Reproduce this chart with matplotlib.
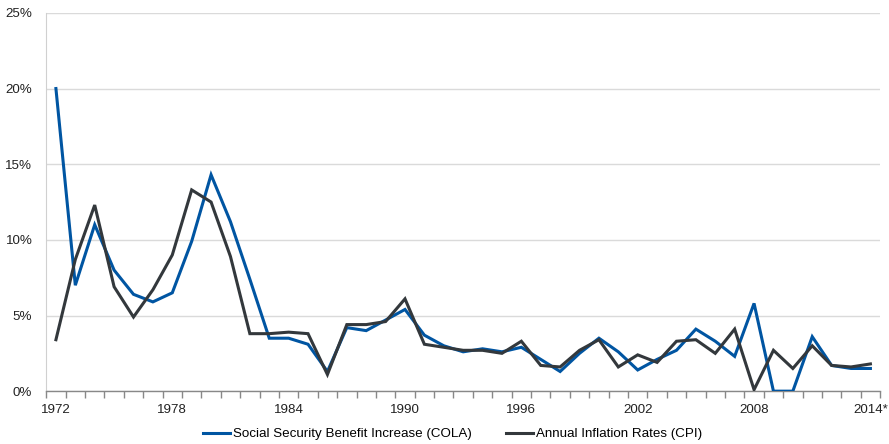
import matplotlib
matplotlib.use("Agg")
import matplotlib.pyplot as plt
from matplotlib.ticker import NullFormatter

plt.rcParams['font.family'] = ['Liberation Sans', 'DejaVu Sans']

years = list(range(1972, 2015))
tick_labels = ["1972", "1978", "1984", "1990", "1996", "2002", "2008", "2014*"]

cola = [20.0, 7.0, 11.0, 8.0, 6.4, 5.9, 6.5, 9.9, 14.3, 11.2,
        7.4, 3.5, 3.5, 3.1, 1.3, 4.2, 4.0, 4.7, 5.4, 3.7,
        3.0, 2.6, 2.8, 2.6, 2.9, 2.1, 1.3, 2.5, 3.5, 2.6,
        1.4, 2.1, 2.7, 4.1, 3.3, 2.3, 5.8, 0.0, 0.0, 3.6,
        1.7, 1.5, 1.5]
cpi = [3.4, 8.7, 12.3, 6.9, 4.9, 6.7, 9.0, 13.3, 12.5, 8.9,
       3.8, 3.8, 3.9, 3.8, 1.1, 4.4, 4.4, 4.6, 6.1, 3.1,
       2.9, 2.7, 2.7, 2.5, 3.3, 1.7, 1.6, 2.7, 3.4, 1.6,
       2.4, 1.9, 3.3, 3.4, 2.5, 4.1, 0.1, 2.7, 1.5, 3.0,
       1.7, 1.6, 1.8]

blue = "#0055A2"
dark = "#33383C"

fig = plt.figure(figsize=(8.89, 4.44), dpi=100)
ax = fig.add_axes([0.052, 0.119, 0.938, 0.852])

x = list(range(len(years)))
ax.plot(x, cola, color=blue, lw=2.2, solid_joinstyle="miter",
        label="Social Security Benefit Increase (COLA)", zorder=3)
ax.plot(x, cpi, color=dark, lw=2.2, solid_joinstyle="miter",
        label="Annual Inflation Rates (CPI)", zorder=3)

ax.set_xlim(-0.5, len(years) - 0.5)
ax.set_ylim(0, 25)

# category axis: ticks between categories, labels every six years
ax.set_xticks([years.index(int(t.rstrip("*"))) for t in tick_labels])
ax.set_xticklabels(tick_labels)
ax.tick_params(axis="x", which="major", length=0, pad=9, labelsize=9.6, colors="#222222")
ax.set_xticks([i - 0.5 for i in range(len(years) + 1)], minor=True)
ax.xaxis.set_minor_formatter(NullFormatter())
ax.tick_params(axis="x", which="minor", length=5, width=1, color="#888888", direction="out")

ax.set_yticks([0, 5, 10, 15, 20, 25])
ax.set_yticklabels(["0%", "5%", "10%", "15%", "20%", "25%"])
ax.tick_params(axis="y", length=0, pad=10, labelsize=9.6, colors="#222222")

ax.grid(axis="y", color="#DADADA", lw=1)
ax.set_axisbelow(True)
for s in ["top", "right"]:
    ax.spines[s].set_visible(False)
ax.spines["left"].set_color("#D0D0D0")
ax.spines["bottom"].set_color("#888888")
ax.spines["bottom"].set_linewidth(1)

fig.legend(loc="center", bbox_to_anchor=(0.509, 0.022), ncol=2, frameon=False,
           fontsize=9.6, handlelength=2.05, handletextpad=0.2, columnspacing=2.6,
           borderaxespad=0)

fig.savefig("out.png", dpi=100)
